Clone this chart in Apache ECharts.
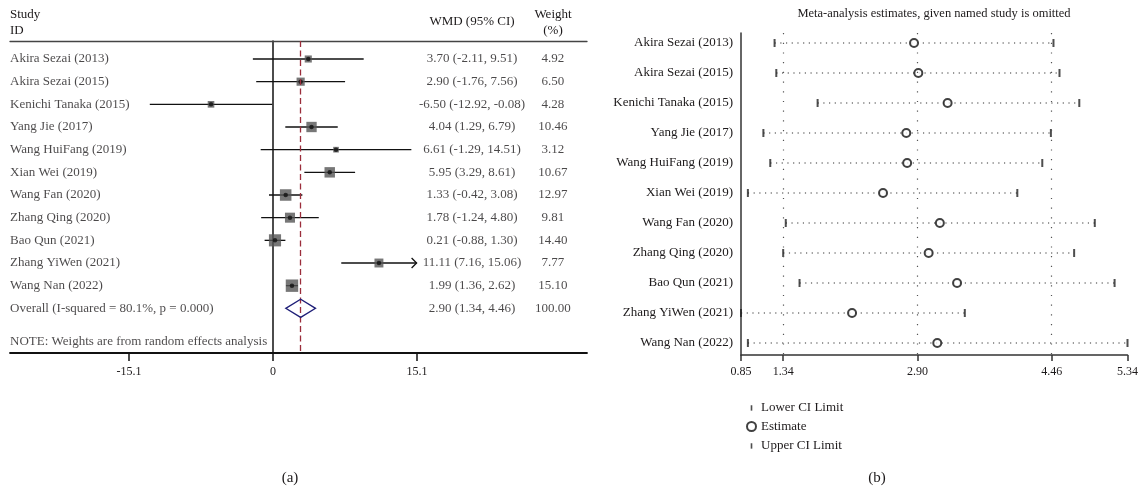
<!DOCTYPE html>
<html>
<head>
<meta charset="utf-8">
<title>Forest plot and sensitivity analysis</title>
<script src="https://cdn.jsdelivr.net/npm/echarts@6/dist/echarts.min.js"></script>
<style>
  html, body { margin: 0; padding: 0; background: #fff; }
  #chart { width: 1141px; height: 493px; }
</style>
</head>
<body>
<div id="chart"></div>
<script>
// study names, same order in both panels
var studies = [
  "Akira Sezai (2013)", "Akira Sezai (2015)", "Kenichi Tanaka (2015)", "Yang Jie (2017)",
  "Wang HuiFang (2019)", "Xian Wei (2019)", "Wang Fan (2020)", "Zhang Qing (2020)",
  "Bao Qun (2021)", "Zhang YiWen (2021)", "Wang Nan (2022)"
];

// (a) forest plot
var wmd = [3.70, 2.90, -6.50, 4.04, 6.61, 5.95, 1.33, 1.78, 0.21, 11.11, 1.99];
var wmdLower = [-2.11, -1.76, -12.92, 1.29, -1.29, 3.29, -0.42, -1.24, -0.88, 7.16, 1.36];
var wmdUpper = [9.51, 7.56, -0.08, 6.79, 14.51, 8.61, 3.08, 4.80, 1.30, 15.06, 2.62];
var weights = [4.92, 6.50, 4.28, 10.46, 3.12, 10.67, 12.97, 9.81, 14.40, 7.77, 15.10];
var overall = [2.90, 1.34, 4.46, 100.00]; // estimate, lower, upper, weight
var overallLabel = "Overall (I-squared = 80.1%, p = 0.000)";
var noteText = "NOTE: Weights are from random effects analysis";
var arrowStudies = ["Zhang YiWen (2021)"];
var forestTicks = [-15.1, 0, 15.1];

// (b) estimates with the named study omitted
var omitEstimate = [2.86, 2.91, 3.25, 2.77, 2.78, 2.50, 3.16, 3.03, 3.36, 2.14, 3.13];
var omitLower = [1.24, 1.26, 1.74, 1.11, 1.19, 0.93, 1.37, 1.34, 1.53, 0.85, 0.93];
var omitUpper = [4.48, 4.55, 4.78, 4.45, 4.35, 4.06, 4.96, 4.72, 5.19, 3.45, 5.34];
var sensTicks = [0.85, 1.34, 2.90, 4.46, 5.34];

var font = "'Liberation Serif', 'DejaVu Serif', serif";
var ink = "#1d1a1b";
var rows = studies.map(function (s, i) { return i; });
var overallRow = studies.length;
var noteRow = 12.48;
var wmdCol = 20.87;     // text column positions in forest units
var weightCol = 29.36;
var forestMin = -27.58, forestMax = 32.93;
var barIcon = "path://M0,0M10,10M4.1,2.5h1.8v6h-1.8z";

function fmtCI(e, l, u) {
  return e.toFixed(2) + " (" + l.toFixed(2) + ", " + u.toFixed(2) + ")";
}

var chart = echarts.init(document.getElementById("chart"));

var textLabel = function (pos) {
  return {
    show: true, position: pos, distance: 0, formatter: "{b}",
    fontFamily: font, fontSize: 13, color: ink
  };
};

var option = {
  animation: false,
  textStyle: { fontFamily: font, color: ink },
  title: [
    { text: "Study\nID", left: 10, top: 7, padding: 0,
      textStyle: { fontFamily: font, fontSize: 13, fontWeight: "normal", color: ink, lineHeight: 16 } },
    { text: "WMD (95% CI)", left: 472, top: 15, padding: 0, textAlign: "center",
      textStyle: { fontFamily: font, fontSize: 13, fontWeight: "normal", color: ink } },
    { text: "Weight\n(%)", left: 553, top: 7, padding: 0, textAlign: "center",
      textStyle: { fontFamily: font, fontSize: 13, fontWeight: "normal", color: ink, lineHeight: 16 } },
    { text: "Meta-analysis estimates, given named study is omitted", left: 934, top: 7, padding: 0, textAlign: "center",
      textStyle: { fontFamily: font, fontSize: 12.5, fontWeight: "normal", color: ink } },
    { text: "(a)", left: 290, top: 471, padding: 0, textAlign: "center",
      textStyle: { fontFamily: font, fontSize: 15, fontWeight: "normal", color: ink } },
    { text: "(b)", left: 877, top: 471, padding: 0, textAlign: "center",
      textStyle: { fontFamily: font, fontSize: 15, fontWeight: "normal", color: ink } }
  ],
  legend: {
    orient: "vertical",
    left: 741,
    top: 396,
    itemWidth: 9,
    itemHeight: 9,
    itemGap: 6,
    selectedMode: false,
    textStyle: { fontFamily: font, fontSize: 13, color: ink },
    data: [
      { name: "Lower CI Limit", icon: barIcon },
      { name: "Estimate", icon: "emptyCircle" },
      { name: "Upper CI Limit", icon: barIcon }
    ]
  },
  grid: [
    { left: 10, top: 41, width: 577, height: 312 },
    { left: 741, top: 33, width: 387, height: 322 }
  ],
  xAxis: [
    {
      gridIndex: 0, type: "value", position: "bottom", min: forestMin, max: forestMax,
      axisLine: { show: true, onZero: false, lineStyle: { color: "#111", width: 1.8 } },
      axisTick: { show: true, customValues: forestTicks, length: 8, lineStyle: { color: "#111", width: 1.5 } },
      axisLabel: { customValues: forestTicks, formatter: function (v) { return String(v); },
        margin: 13, fontSize: 12, color: ink, fontFamily: font },
      splitLine: { show: false }
    },
    {
      gridIndex: 0, type: "value", position: "top", min: forestMin, max: forestMax,
      axisLine: { show: true, onZero: false, lineStyle: { color: "#444", width: 1.3 } },
      axisTick: { show: false }, axisLabel: { show: false }, splitLine: { show: false }
    },
    {
      gridIndex: 1, type: "value", min: 0.85, max: 5.34,
      axisLine: { show: true, onZero: false, lineStyle: { color: "#333", width: 1.5 } },
      axisTick: { show: true, customValues: sensTicks, length: 6, lineStyle: { color: "#333", width: 1.5 } },
      axisLabel: { customValues: sensTicks, formatter: function (v) { return v.toFixed(2); },
        margin: 11, fontSize: 12, color: ink, fontFamily: font },
      splitLine: { show: false }
    }
  ],
  yAxis: [
    {
      gridIndex: 0, type: "value", inverse: true, min: -0.794, max: 12.97,
      axisLine: { show: true, onZero: true, onZeroAxisIndex: 0, lineStyle: { color: "#111", width: 1.5 } },
      axisTick: { show: false }, axisLabel: { show: false }, splitLine: { show: false }
    },
    {
      gridIndex: 1, type: "value", inverse: true, min: -0.333, max: 10.4,
      axisLine: { show: true, onZero: false, lineStyle: { color: "#333", width: 1.5 } },
      axisTick: { show: false },
      axisLabel: { customValues: rows, formatter: function (v) { return studies[v]; },
        margin: 8, fontSize: 13, color: ink, fontFamily: font },
      splitLine: { show: false }
    }
  ],
  series: [
    // (a) confidence interval lines
    {
      type: "custom", xAxisIndex: 0, yAxisIndex: 0, silent: true, z: 2,
      encode: { x: [0, 1], y: 2 },
      data: studies.map(function (s, i) { return [wmdLower[i], wmdUpper[i], i]; }),
      renderItem: function (params, api) {
        var a = api.coord([api.value(0), api.value(2)]);
        var b = api.coord([api.value(1), api.value(2)]);
        var kids = [{ type: "line", shape: { x1: a[0], y1: a[1], x2: b[0], y2: b[1] },
          style: { stroke: "#111", lineWidth: 1.3 } }];
        if (arrowStudies.indexOf(studies[params.dataIndex]) >= 0) {
          kids.push({ type: "polyline",
            shape: { points: [[b[0] - 5, b[1] - 5], [b[0], b[1]], [b[0] - 5, b[1] + 5]] },
            style: { stroke: "#111", lineWidth: 1.3, fill: null } });
        }
        return { type: "group", children: kids };
      }
    },
    // (a) weight squares
    {
      type: "scatter", xAxisIndex: 0, yAxisIndex: 0, silent: true, z: 3,
      symbol: "rect",
      symbolSize: function (v) { return 3.2 * Math.sqrt(v[2]); },
      itemStyle: { color: "#555" },
      data: studies.map(function (s, i) { return [wmd[i], i, weights[i]]; })
    },
    // (a) point estimates
    {
      type: "scatter", xAxisIndex: 0, yAxisIndex: 0, silent: true, z: 4,
      symbolSize: 4.5,
      itemStyle: { color: "#111" },
      data: studies.map(function (s, i) { return [wmd[i], i]; }),
      markLine: {
        silent: true, symbol: "none", label: { show: false },
        lineStyle: { color: "#9b2d3b", type: [6, 3.5], width: 1.3 },
        data: [{ xAxis: overall[0] }]
      }
    },
    // (a) overall diamond
    {
      type: "custom", xAxisIndex: 0, yAxisIndex: 0, silent: true, z: 5,
      encode: { x: [0, 1, 2], y: 3 },
      data: [[overall[1], overall[0], overall[2], overallRow]],
      renderItem: function (params, api) {
        var row = api.value(3);
        var l = api.coord([api.value(0), row]);
        var c = api.coord([api.value(1), row]);
        var r = api.coord([api.value(2), row]);
        var h = api.size([0, 1])[1] * 0.4;
        return { type: "polygon",
          shape: { points: [l, [c[0], c[1] - h], r, [c[0], c[1] + h]] },
          style: { fill: null, stroke: "#1f1f78", lineWidth: 1.3 } };
      }
    },
    // (a) study names column
    {
      type: "scatter", xAxisIndex: 0, yAxisIndex: 0, silent: true, clip: false,
      symbolSize: 0, label: textLabel("right"),
      data: studies.map(function (s, i) { return { name: s, value: [forestMin, i] }; })
        .concat([{ name: overallLabel, value: [forestMin, overallRow] },
                 { name: noteText, value: [forestMin, noteRow] }])
    },
    // (a) WMD (95% CI) column
    {
      type: "scatter", xAxisIndex: 0, yAxisIndex: 0, silent: true, clip: false,
      symbolSize: 0, label: textLabel("inside"),
      data: studies.map(function (s, i) {
        return { name: fmtCI(wmd[i], wmdLower[i], wmdUpper[i]), value: [wmdCol, i] };
      }).concat([{ name: fmtCI(overall[0], overall[1], overall[2]), value: [wmdCol, overallRow] }])
    },
    // (a) weight column
    {
      type: "scatter", xAxisIndex: 0, yAxisIndex: 0, silent: true, clip: false,
      symbolSize: 0, label: textLabel("inside"),
      data: studies.map(function (s, i) {
        return { name: weights[i].toFixed(2), value: [weightCol, i] };
      }).concat([{ name: overall[3].toFixed(2), value: [weightCol, overallRow] }])
    },
    // (b) dotted interval lines
    {
      type: "custom", xAxisIndex: 2, yAxisIndex: 1, silent: true, z: 2,
      encode: { x: [0, 1], y: 2 },
      data: studies.map(function (s, i) { return [omitLower[i], omitUpper[i], i]; }),
      renderItem: function (params, api) {
        var a = api.coord([api.value(0), api.value(2)]);
        var b = api.coord([api.value(1), api.value(2)]);
        return { type: "line", shape: { x1: a[0], y1: a[1], x2: b[0], y2: b[1] },
          style: { stroke: "#333", lineWidth: 1.2, lineDash: [1.2, 4.5] } };
      }
    },
    {
      name: "Lower CI Limit", type: "scatter", xAxisIndex: 2, yAxisIndex: 1, silent: true, z: 3,
      symbol: "rect", symbolSize: [2, 8], itemStyle: { color: "#222" },
      data: studies.map(function (s, i) { return [omitLower[i], i]; })
    },
    {
      name: "Estimate", type: "scatter", xAxisIndex: 2, yAxisIndex: 1, silent: true, z: 4,
      symbol: "emptyCircle", symbolSize: 8, itemStyle: { color: "#111", borderWidth: 1.4 },
      data: studies.map(function (s, i) { return [omitEstimate[i], i]; }),
      markLine: {
        silent: true, symbol: "none", label: { show: false },
        lineStyle: { color: "#555", type: [1.2, 8.5], width: 1.2 },
        data: [{ xAxis: overall[1] }, { xAxis: overall[0] }, { xAxis: overall[2] }]
      }
    },
    {
      name: "Upper CI Limit", type: "scatter", xAxisIndex: 2, yAxisIndex: 1, silent: true, z: 3,
      symbol: "rect", symbolSize: [2, 8], itemStyle: { color: "#222" },
      data: studies.map(function (s, i) { return [omitUpper[i], i]; })
    }
  ]
};

chart.setOption(option);
</script>
</body>
</html>
